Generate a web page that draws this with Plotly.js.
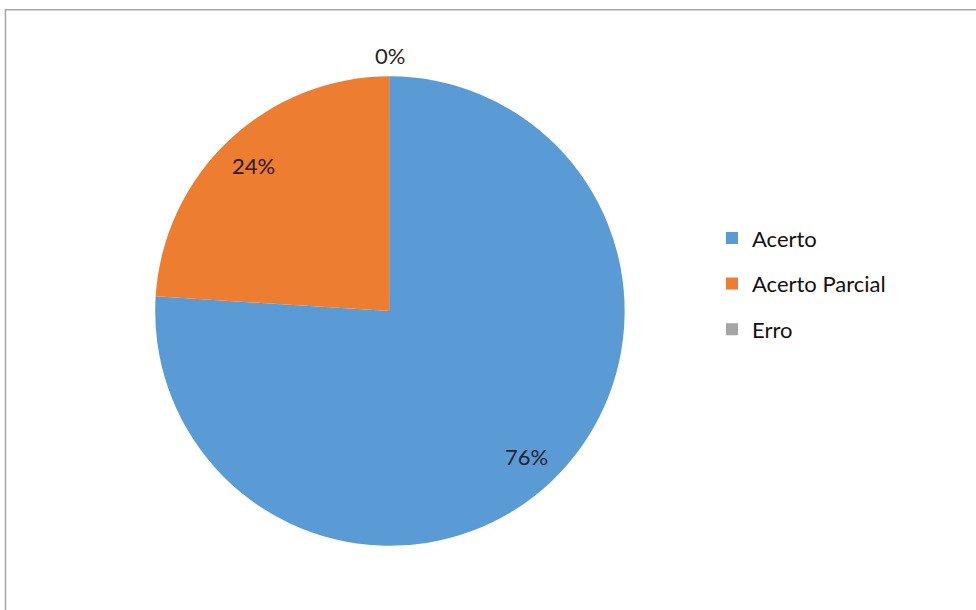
<!DOCTYPE html>
<html>
<head>
<meta charset="utf-8">
<script src="https://cdn.plot.ly/plotly-3.0.1.min.js"></script>
<style>html,body{margin:0;padding:0;background:#fff;}#chart{width:976px;height:610px;}</style>
</head>
<body>
<div id="chart"></div>
<script>
const categories = ["Acerto", "Acerto Parcial", "Erro"];
const values = [76, 24, 0];
const colors = ["#5B9BD5", "#ED7D31", "#A5A5A5"];
const labelColors = ["#1c2433", "#2a1a10", "#262626"];

const W = 976, H = 610;
const domX = [0.159, 0.640], domY = [0.105, 0.875];
const FONT = "Lato, 'Open Sans', sans-serif";

const pie = {
  type: "pie",
  labels: categories,
  values: values,
  sort: false,
  direction: "clockwise",
  rotation: 0,
  marker: {colors: colors, line: {width: 0}},
  textinfo: "none",
  domain: {x: domX, y: domY},
  showlegend: false,
  hoverinfo: "label+percent"
};

// legend entries (one per category, same colours as the slices)
const legendTraces = categories.map((c, i) => ({
  type: "scatter", mode: "markers",
  x: [null], y: [null],
  name: c, legendgroup: "g" + i,
  marker: {symbol: "square", size: 12, color: colors[i]},
  hoverinfo: "skip"
}));

// percentage labels placed from the data (slice mid-angle)
const total = values.reduce((a, b) => a + b, 0);
const cx = (domX[0] + domX[1]) / 2, cy = (domY[0] + domY[1]) / 2;
const R = Math.min((domX[1] - domX[0]) * W, (domY[1] - domY[0]) * H) / 2;
let cum = 0;
const annotations = values.map((v, i) => {
  const mid = (cum + v / 2) / total * 2 * Math.PI;
  cum += v;
  const f = v === 0 ? 1.09 : 0.85;
  return {
    xref: "paper", yref: "paper", showarrow: false,
    x: cx + f * R * Math.sin(mid) / W,
    y: cy + f * R * Math.cos(mid) / H,
    text: Math.round(v / total * 100) + "%",
    font: {family: FONT, size: 22, color: labelColors[i]},
    xanchor: "center", yanchor: "middle"
  };
});

const layout = {
  width: W,
  height: H,
  margin: {l: 0, r: 0, t: 0, b: 0},
  paper_bgcolor: "#ffffff",
  plot_bgcolor: "rgba(0,0,0,0)",
  xaxis: {visible: false, domain: [0.9, 1]},
  yaxis: {visible: false, domain: [0.9, 1]},
  showlegend: true,
  legend: {
    x: 0.7295, y: 0.535, xanchor: "left", yanchor: "middle",
    font: {family: FONT, size: 22, color: "#111111"},
    bgcolor: "rgba(0,0,0,0)",
    traceorder: "grouped",
    tracegroupgap: 14,
    itemclick: false
  },
  annotations: annotations,
  shapes: [{
    type: "rect", xref: "paper", yref: "paper",
    x0: 0.0056, x1: 1.02, y0: -0.02, y1: 0.984,
    line: {color: "#A6A6A6", width: 1.5}, fillcolor: "rgba(0,0,0,0)"
  }]
};

Plotly.newPlot("chart", [pie].concat(legendTraces), layout, {displayModeBar: false, staticPlot: true});
</script>
</body>
</html>
